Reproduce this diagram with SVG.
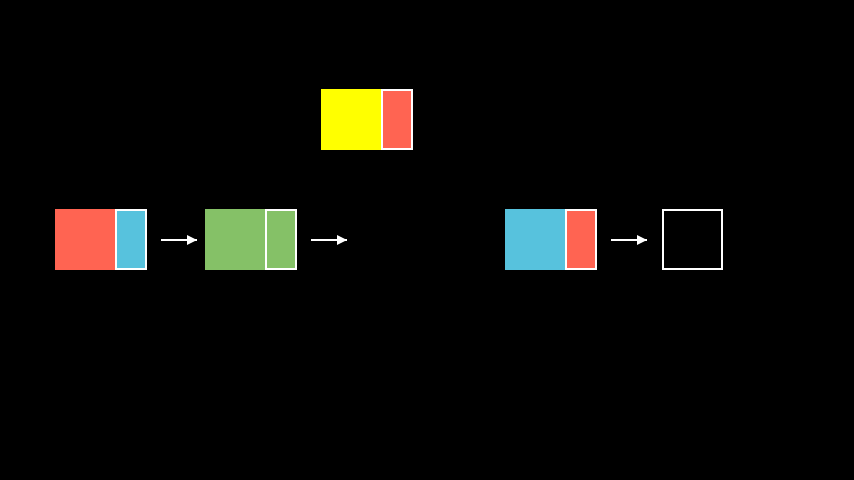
<svg xmlns="http://www.w3.org/2000/svg" width="854" height="480" viewBox="0 0 854 480">
<defs>
<style>
.ptr{stroke:#fff;stroke-width:2}
.link{stroke:#fff;stroke-width:2;fill:none}
.red{fill:#FF6452}
.blue{fill:#57C2DD}
.green{fill:#85C167}
.yellow{fill:#FFFF00}
</style>
<marker id="ah" viewBox="0 0 10 10" refX="10" refY="5" markerWidth="5" markerHeight="5" markerUnits="strokeWidth" orient="auto">
<path d="M0,0 L10,5 L0,10 Z" fill="#fff"/>
</marker>
</defs>
<rect width="854" height="480" fill="#000"/>
<g id="node-yellow">
<rect class="yellow" x="321" y="89" width="61" height="61"/>
<rect class="ptr red" x="382" y="90" width="30" height="59"/>
</g>
<g id="node-red">
<rect class="red" x="55" y="209" width="61" height="61"/>
<rect class="ptr blue" x="116" y="210" width="30" height="59"/>
</g>
<g id="node-green">
<rect class="green" x="205" y="209" width="61" height="61"/>
<rect class="ptr green" x="266" y="210" width="30" height="59"/>
</g>
<g id="node-blue">
<rect class="blue" x="505" y="209" width="61" height="61"/>
<rect class="ptr red" x="566" y="210" width="30" height="59"/>
</g>
<g id="node-empty">
<rect class="ptr" fill="none" x="663" y="210" width="59" height="59"/>
</g>
<g id="connectors">
<line class="link" x1="161" y1="240" x2="197" y2="240" marker-end="url(#ah)"/>
<line class="link" x1="311" y1="240" x2="347" y2="240" marker-end="url(#ah)"/>
<line class="link" x1="611" y1="240" x2="647" y2="240" marker-end="url(#ah)"/>
</g>
</svg>
